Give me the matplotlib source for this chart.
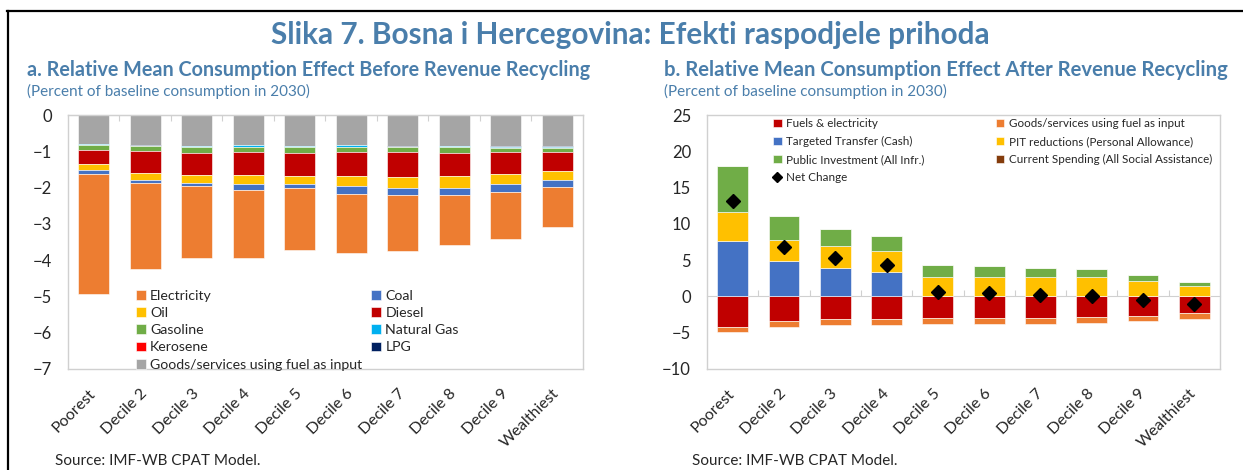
"""Bosnia and Herzegovina: distributional effects of carbon pricing, before/after recycling."""

import matplotlib

matplotlib.use("Agg")
import matplotlib.pyplot as plt
from matplotlib.lines import Line2D

DECILES = ["Poorest", "Decile 2", "Decile 3", "Decile 4", "Decile 5",
           "Decile 6", "Decile 7", "Decile 8", "Decile 9", "Wealthiest"]

# panel a: change in consumption by fuel (percent of baseline)
goods_a = [-0.80, -0.83, -0.845, -0.83, -0.845, -0.83, -0.845, -0.845, -0.845, -0.845]
lpg = [-0.01, -0.015, -0.02, -0.01, -0.02, -0.01, -0.025, -0.02, -0.025, -0.04]
kerosene = [0.0, 0.0, 0.0, 0.0, 0.0, 0.0, 0.0, 0.0, 0.0, 0.0]
natural_gas = [-0.005, -0.005, -0.005, -0.03, -0.015, -0.03, -0.01, -0.015, -0.03, -0.015]
gasoline = [-0.14, -0.145, -0.18, -0.16, -0.17, -0.16, -0.13, -0.18, -0.13, -0.12]
diesel = [-0.39, -0.59, -0.60, -0.61, -0.62, -0.66, -0.70, -0.63, -0.59, -0.52]
oil = [-0.16, -0.21, -0.23, -0.26, -0.23, -0.26, -0.29, -0.31, -0.29, -0.25]
coal = [-0.12, -0.08, -0.07, -0.18, -0.12, -0.23, -0.21, -0.20, -0.20, -0.19]
electricity = [-3.31, -2.36, -1.98, -1.87, -1.71, -1.61, -1.55, -1.38, -1.32, -1.12]

# panel b: after revenue recycling
fuels_elec = [-4.17, -3.39, -3.17, -3.17, -2.94, -3.03, -3.03, -2.80, -2.66, -2.29]
goods_b = [-0.78, -0.88, -0.82, -0.82, -0.82, -0.78, -0.78, -0.82, -0.78, -0.83]
targeted = [7.66, 4.82, 3.90, 3.35, 0.0, 0.0, 0.0, 0.0, 0.0, 0.0]
pit = [3.99, 2.98, 3.03, 2.93, 2.61, 2.66, 2.66, 2.66, 2.16, 1.42]
public_inv = [6.38, 3.35, 2.34, 2.07, 1.75, 1.51, 1.24, 1.06, 0.82, 0.51]
current_spend = [0.0, 0.0, 0.0, 0.0, 0.0, 0.0, 0.0, 0.0, 0.0, 0.0]
net_change = [13.17, 6.88, 5.32, 4.36, 0.60, 0.41, 0.14, 0.05, -0.50, -1.10]

BLUE = "#4A7EAB"
FRAME = "#D0D0D0"
TEXT = "#262626"
FONT = "Lato"


def stack(ax, series, x):
    """Stack series outward from zero, positives up and negatives down."""
    pos = [0.0] * len(x)
    neg = [0.0] * len(x)
    for vals, color, label in series:
        bottoms = [pos[i] if v >= 0 else neg[i] for i, v in enumerate(vals)]
        ax.bar(x, vals, 0.6, bottom=bottoms, color=color, label=label,
               edgecolor="white", linewidth=0.4)
        for i, v in enumerate(vals):
            if v >= 0:
                pos[i] += v
            else:
                neg[i] += v


def style(ax, ymin, ymax, step, zero_loc):
    ax.set_xlim(-0.5, len(DECILES) - 0.5)
    ax.set_ylim(ymin, ymax)
    ax.set_yticks(range(ymin, ymax + 1, step))
    ax.set_xticks(range(len(DECILES)))
    ax.set_xticklabels(DECILES, rotation=45, ha="right", va="center",
                       rotation_mode="anchor")
    ax.tick_params(axis="x", length=0, pad=16, labelsize=11.5, labelcolor=TEXT)
    ax.tick_params(axis="y", length=0, pad=11.5, labelsize=12, labelcolor=TEXT)
    for sp in ax.spines.values():
        sp.set_color(FRAME)
        sp.set_linewidth(1.0)
    # category axis sits on the zero line with boundary ticks
    if zero_loc == "top":
        zero = ax.secondary_xaxis("top")
    else:
        zero = ax.secondary_xaxis(0, transform=ax.transData)
    zero.set_xticks([i + 0.5 for i in range(len(DECILES) - 1)], labels=[])
    zero.tick_params(direction="in", length=4, color=FRAME)
    for sp in zero.spines.values():
        sp.set_color(FRAME)


def main() -> None:
    plt.rcParams["font.family"] = [FONT, "DejaVu Sans"]
    fig = plt.figure(figsize=(12.43, 4.70), dpi=100)

    ax_a = fig.add_axes([0.0547, 0.2149, 0.4143, 0.5404])
    ax_b = fig.add_axes([0.5688, 0.2149, 0.4127, 0.5404])
    x = list(range(len(DECILES)))

    stack(ax_a, [
        (goods_a, "#A5A5A5", "Goods/services using fuel as input"),
        (lpg, "#002060", "LPG"),
        (kerosene, "#FF0000", "Kerosene"),
        (natural_gas, "#00B0F0", "Natural Gas"),
        (gasoline, "#70AD47", "Gasoline"),
        (diesel, "#C00000", "Diesel"),
        (oil, "#FFC000", "Oil"),
        (coal, "#4472C4", "Coal"),
        (electricity, "#ED7D31", "Electricity"),
    ], x)
    style(ax_a, -7, 0, 1, "top")
    h, l = ax_a.get_legend_handles_labels()
    lut = dict(zip(l, h))
    order_a = ["Electricity", "Oil", "Gasoline", "Kerosene",
               "Goods/services using fuel as input",
               "Coal", "Diesel", "Natural Gas", "LPG"]
    ax_a.legend([lut[k] for k in order_a], order_a, ncol=2, frameon=False,
                loc="upper left", bbox_to_anchor=(0.118, 0.34),
                fontsize=10.2, handlelength=0.7, handleheight=0.7,
                handletextpad=0.3, columnspacing=0.64, labelspacing=0.37,
                borderpad=0, labelcolor=TEXT)

    stack(ax_b, [
        (fuels_elec, "#C00000", "Fuels & electricity"),
        (goods_b, "#ED7D31", "Goods/services using fuel as input"),
        (targeted, "#4472C4", "Targeted Transfer (Cash)"),
        (pit, "#FFC000", "PIT reductions (Personal Allowance)"),
        (public_inv, "#70AD47", "Public Investment (All Infr.)"),
        (current_spend, "#843C0C", "Current Spending (All Social Assistance)"),
    ], x)
    ax_b.plot(x, net_change, linestyle="none", marker="D", markersize=7,
              color="black", label="Net Change")
    style(ax_b, -10, 25, 5, 0)
    h, l = ax_b.get_legend_handles_labels()
    lut = dict(zip(l, h))
    order_b = ["Fuels & electricity", "Targeted Transfer (Cash)",
               "Public Investment (All Infr.)", "Net Change",
               "Goods/services using fuel as input",
               "PIT reductions (Personal Allowance)",
               "Current Spending (All Social Assistance)"]
    handles_b = [lut[k] for k in order_b]
    leg = ax_b.legend(handles_b, order_b, ncol=2, frameon=False,
                      loc="upper left", bbox_to_anchor=(0.118, 1.01),
                      fontsize=8.4, handlelength=0.7, handleheight=0.7,
                      handletextpad=0.4, columnspacing=6.1, labelspacing=0.6,
                      borderpad=0, labelcolor=TEXT, markerscale=0.7)
    for patch in leg.get_patches():
        if patch.get_label() == "Current Spending (All Social Assistance)":
            patch.set_edgecolor("#333333")
            patch.set_linewidth(0.8)

    fig.text(0.507, 0.925, "Slika 7. Bosna i Hercegovina: Efekti raspodjele prihoda",
             ha="center", va="center", fontsize=21.4, fontweight="bold", color=BLUE)
    fig.text(0.0217, 0.851, "a. Relative Mean Consumption Effect Before Revenue Recycling",
             ha="left", va="center", fontsize=14.25, fontweight="bold", color=BLUE)
    fig.text(0.534, 0.851, "b. Relative Mean Consumption Effect After Revenue Recycling",
             ha="left", va="center", fontsize=14.6, fontweight="bold", color=BLUE)
    for xpos in (0.0217, 0.534):
        fig.text(xpos, 0.806, "(Percent of baseline consumption in 2030)",
                 ha="left", va="center", fontsize=11, color=BLUE)
    for xpos in (0.044, 0.557):
        fig.text(xpos, 0.019, "Source: IMF-WB CPAT Model.",
                 ha="left", va="center", fontsize=11, color=TEXT)

    # frame on the top and left edges
    fig.add_artist(Line2D([0.0056, 1.0], [0.9766, 0.9766], color="black", linewidth=1.6))
    fig.add_artist(Line2D([0.0064, 0.0064], [0.0, 0.9766], color="black", linewidth=1.6))

    fig.savefig("out.png", dpi=100)


if __name__ == "__main__":
    main()
